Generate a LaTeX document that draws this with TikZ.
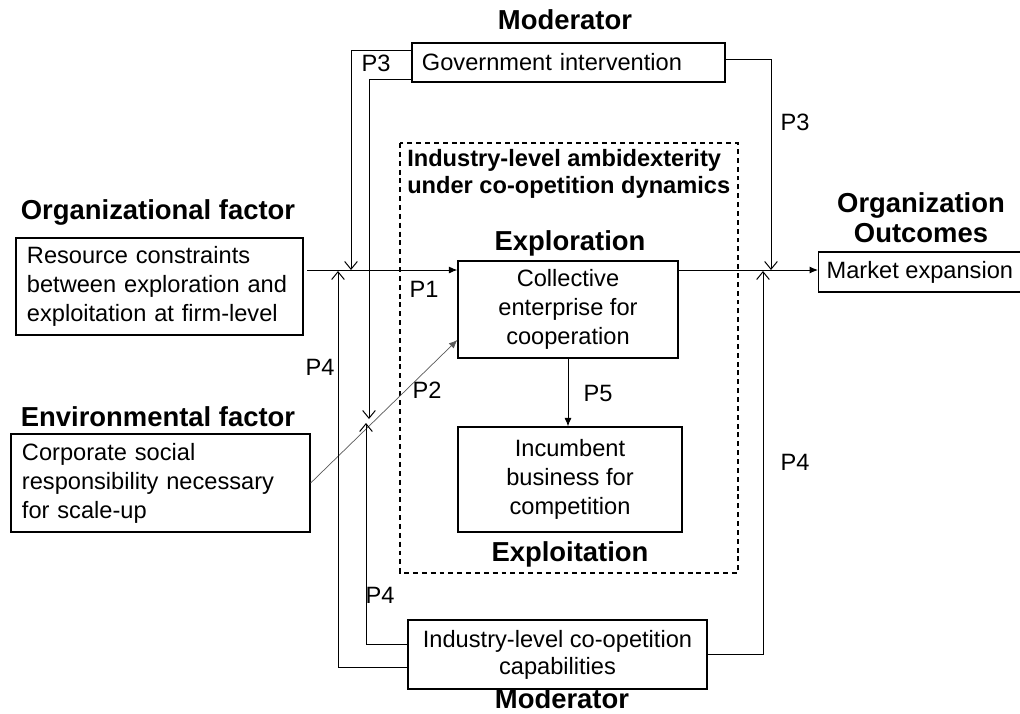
\documentclass[tikz,border=0pt]{standalone}
\usepackage{fontspec}
\setmainfont{Liberation Sans}
\usepackage{tikz}
\usetikzlibrary{arrows.meta}

\begin{document}
\begin{tikzpicture}[x=0.025cm, y=-0.025cm,
        txt/.style={font=\fontsize{16.8}{20.6}\selectfont},
        head/.style={font=\fontsize{19.5}{21.3}\selectfont\bfseries},
        box/.style={draw, line width=0.9pt, txt, inner sep=0pt},
        link/.style={line width=0.7pt},
        modarrow/.style={link, -{Straight Barb[length=5.5pt,width=9pt]}},
        mainarrow/.style={link, -{Latex[length=6pt,width=5pt]}}]
        \useasboundingbox (0, 0) rectangle (1020, 713);

        \draw[line width=0.8pt, dash pattern=on 3.5pt off 2.8pt] (400, 143) rectangle (738, 573);
        \node[txt, font=\fontsize{16.8}{19.1}\selectfont\bfseries, anchor=west, align=left, inner sep=0pt] (title) at (407, 174)
            {Industry-level ambidexterity\\under co-opetition dynamics};

        \node[head] (modtop) at (565, 20) {Moderator};
        \node[head] (modbot) at (562, 699) {Moderator};
        \node[head] (orghead) at (158, 212) {Organizational factor};
        \node[head] (envhead) at (158, 417) {Environmental factor};
        \node[head] (exphead) at (570, 243) {Exploration};
        \node[head] (exthead) at (570, 554) {Exploitation};
        \node[head, align=center] (outhead) at (921, 218) {Organization\\Outcomes};

        \node[box, minimum width=7.825cm, minimum height=0.975cm, text width=7.325cm, align=left] (gov) at (568.5, 62.5)
            {Government intervention};
        \node[box, minimum width=7.175cm, minimum height=2.425cm, text width=6.625cm, align=left] (res) at (159.5, 286.5)
            {Resource constraints\\between exploration and\\exploitation at firm-level};
        \node[box, minimum width=7.475cm, minimum height=2.45cm, text width=6.925cm, align=left] (env) at (160.5, 483)
            {Corporate social\\responsibility necessary\\for scale-up};
        \node[box, minimum width=5.5cm, minimum height=2.425cm, align=center] (expl) at (568, 309.5)
            {Collective\\enterprise for\\cooperation};
        \node[box, minimum width=5.6cm, minimum height=2.625cm, align=center] (expt) at (570, 479.5)
            {Incumbent\\business for\\competition};
        \node[box, anchor=west, inner xsep=0.2cm, minimum height=1cm] (mkt) at (818, 272) {Market expansion};
        \node[box, minimum width=7.475cm, minimum height=1.725cm, align=center, font=\fontsize{16.8}{19.1}\selectfont] (cap) at (557.5, 654.5)
            {Industry-level co-opetition\\capabilities};

        \coordinate (p1in) at (307, 270);
        \coordinate (jL) at (351, 270);
        \coordinate (jLp) at (338, 271);
        \coordinate (jM) at (369, 419);
        \coordinate (jMp) at (366, 423);
        \coordinate (jR) at (771, 270);
        \coordinate (jRp) at (763, 271);

        \draw[mainarrow] (p1in) -- (p1in -| expl.west);
        \draw[mainarrow] (expl.east |- jR) -- (mkt.west |- jR);
        \draw[line width=0.5pt, black!65, -{Latex[length=6pt,width=5pt]}] (env.east) -- (expl.west |- 0,340);
        \draw[mainarrow] (expl.south) -- (expl.south |- expt.north);

        % moderators
        \draw[modarrow] (gov.west |- 0,50) -| (jL);
        \draw[modarrow] (gov.west |- 0,79) -| (jM);
        \draw[modarrow] (gov.east |- 0,59) -| (jR);
        \draw[modarrow] (cap.west |- 0,667) -| (jLp);
        \draw[modarrow] (cap.west |- 0,644) -| (jMp);
        \draw[modarrow] (cap.east |- 0,654) -| (jRp);

        \node[txt] (lp1) at (424, 289) {P1};
        \node[txt] (lp2) at (427, 390) {P2};
        \node[txt] (lp3a) at (376, 63) {P3};
        \node[txt] (lp3b) at (795, 122) {P3};
        \node[txt] (lp4a) at (320, 367) {P4};
        \node[txt] (lp4b) at (380, 595) {P4};
        \node[txt] (lp4c) at (795, 462) {P4};
        \node[txt] (lp5) at (598, 393) {P5};
\end{tikzpicture}
\end{document}
